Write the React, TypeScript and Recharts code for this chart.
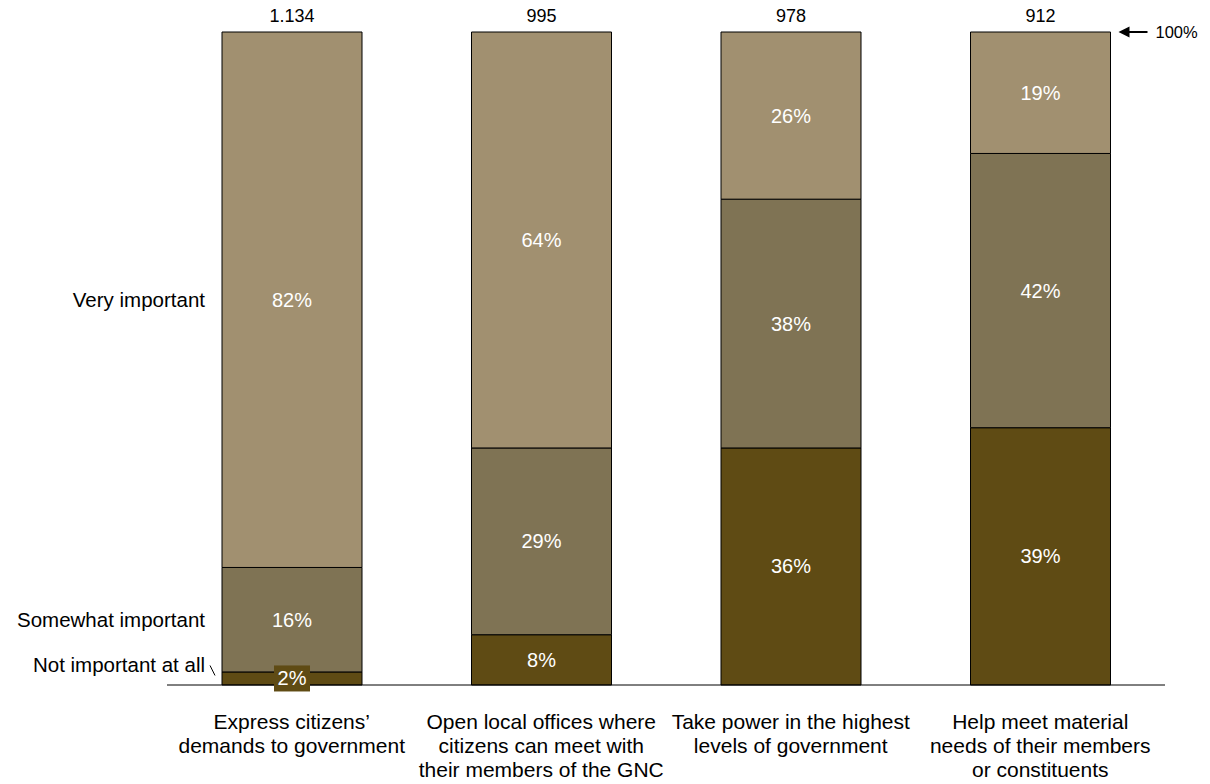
import React from 'react'
import { BarChart, Bar, XAxis, YAxis, LabelList } from 'recharts'

const categories = [
	'Express citizens’\ndemands to government',
	'Open local offices where\ncitizens can meet with\ntheir members of the GNC',
	'Take power in the highest\nlevels of government',
	'Help meet material\nneeds of their members\nor constituents',
]
const notImportant = [2, 7.7, 36.3, 39.4]
const somewhatImportant = [16, 28.6, 38.1, 42]
const veryImportant = [82, 63.7, 25.6, 18.6]
const respondents = [1134, 995, 978, 912]
const rowLabels = ['Very important', 'Somewhat important', 'Not important at all']

const FONT = '"Liberation Sans", Arial, sans-serif'
const COLORS = { very: '#A19070', somewhat: '#7F7354', not: '#5F4B14' }

const data = categories.map((name, i) => ({
	name,
	not: notImportant[i],
	somewhat: somewhatImportant[i],
	very: veryImportant[i],
	n: respondents[i],
}))

// row labels sit beside the first bar's segments
const rowTicks = [
	notImportant[0] + somewhatImportant[0] + veryImportant[0] / 2,
	notImportant[0] + somewhatImportant[0] / 2,
	notImportant[0] / 2,
]

const fmtCount = (n: number) => String(n).replace(/\B(?=(\d{3})+(?!\d))/g, '.')
const pct = (v: any) => `${Math.round(Number(v))}%`

function CategoryTick({ x, y, payload }: any) {
	const lines = String(payload.value).split('\n')
	return (
		<text x={x} y={y} textAnchor='middle' fontSize={21} fill='#000' fontFamily={FONT}>
			{lines.map((l, i) => (
				<tspan key={i} x={x} dy={i === 0 ? 44 : 24}>
					{l}
				</tspan>
			))}
		</text>
	)
}

function RowTick({ x, y, index }: any) {
	const last = index === 2
	return (
		<g>
			<text
				x={x + 38}
				y={last ? y - 14 : y}
				dy='0.35em'
				textAnchor='end'
				fontSize={20.5}
				fill='#000'
				fontFamily={FONT}
			>
				{rowLabels[index]}
			</text>
			{last && <line x1={x + 43} y1={y - 13} x2={x + 48} y2={y - 3} stroke='#000' strokeWidth={1} />}
		</g>
	)
}

function SmallLabel(props: any) {
	const { x, y, width, height, value } = props
	const cx = x + width / 2
	const cy = y + height / 2
	if (height < 22) {
		return (
			<g>
				<rect x={cx - 18} y={cy - 13} width={36} height={26} fill={COLORS.not} />
				<text x={cx} y={cy} dy='0.35em' textAnchor='middle' fontSize={20} fill='#fff' fontFamily={FONT}>
					{pct(value)}
				</text>
			</g>
		)
	}
	return (
		<text x={cx} y={cy} dy='0.35em' textAnchor='middle' fontSize={20} fill='#fff' fontFamily={FONT}>
			{pct(value)}
		</text>
	)
}

function TopLabel(props: any) {
	const { x, y, width, index } = props
	const cx = x + width / 2
	const right = x + width
	return (
		<g>
			<text x={cx} y={y - 10} textAnchor='middle' fontSize={18} fill='#000' fontFamily={FONT}>
				{fmtCount(respondents[index])}
			</text>
			{index === respondents.length - 1 && (
				<g>
					<line x1={right + 12} y1={y} x2={right + 37} y2={y} stroke='#000' strokeWidth={2} />
					<path d={`M${right + 8},${y} L${right + 19},${y - 5.5} L${right + 19},${y + 5.5} Z`} fill='#000' />
					<text x={right + 45} y={y} dy='0.35em' fontSize={16.5} fill='#000' fontFamily={FONT}>
						100%
					</text>
				</g>
			)}
		</g>
	)
}

export default function App() {
	return (
		<div style={{ position: 'absolute', left: 0, top: 0, background: '#fff' }}>
			<BarChart
				width={1210}
				height={784}
				data={data}
				margin={{ top: 32, right: 45, bottom: 0, left: 0 }}
				barSize={140}
			>
				<XAxis
					dataKey='name'
					height={99}
					axisLine={{ stroke: '#000', strokeWidth: 1 }}
					tickLine={false}
					tickSize={0}
					tickMargin={0}
					interval={0}
					tick={<CategoryTick />}
				/>
				<YAxis
					width={167}
					domain={[0, 100]}
					ticks={rowTicks}
					interval={0}
					axisLine={false}
					tickLine={false}
					tickSize={0}
					tickMargin={0}
					tick={<RowTick />}
				/>
				<Bar dataKey='not' stackId='a' fill={COLORS.not} stroke='#000' strokeWidth={1} isAnimationActive={false}>
					<LabelList dataKey='not' content={<SmallLabel />} />
				</Bar>
				<Bar dataKey='somewhat' stackId='a' fill={COLORS.somewhat} stroke='#000' strokeWidth={1} isAnimationActive={false}>
					<LabelList dataKey='somewhat' content={<SmallLabel />} />
				</Bar>
				<Bar dataKey='very' stackId='a' fill={COLORS.very} stroke='#000' strokeWidth={1} isAnimationActive={false}>
					<LabelList dataKey='very' content={<SmallLabel />} />
					<LabelList dataKey='n' content={<TopLabel />} />
				</Bar>
			</BarChart>
		</div>
	)
}
